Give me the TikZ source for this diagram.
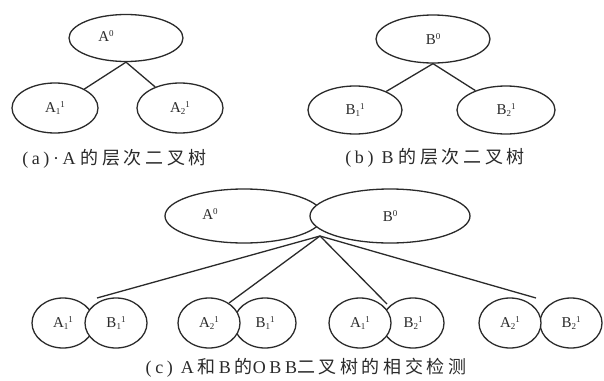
\documentclass[tikz,border=0pt]{standalone}
\usepackage{fontspec}
\setmainfont{Liberation Serif}
\newfontfamily\capfont[LetterSpace=20]{Liberation Serif}
\newfontfamily\cjk[LetterSpace=20]{Noto Sans CJK SC}
\usetikzlibrary{shapes.geometric}
\definecolor{ink}{HTML}{2A2A2A}
\newcommand\sml[1]{{\fontsize{9}{9}\selectfont #1}}
\newcommand\lbl[3]{#1\raisebox{-0.35ex}{\sml{#2}}\raisebox{0.8ex}{\sml{#3}}}
\newcommand\lbz[2]{#1\raisebox{0.8ex}{\sml{#2}}}
\begin{document}
\begin{tikzpicture}[x=1pt,y=-1pt,
  ov/.style={draw=ink,line width=1.3pt,ellipse,fill=white,inner sep=0pt,
             text=ink,font=\fontsize{15}{18}\selectfont},
  pairov/.style={ov,minimum width=62pt,minimum height=50pt},
  lab/.style={font=\fontsize{15}{18}\selectfont,inner sep=0pt,text=ink},
  captext/.style={font=\capfont\fontsize{18}{20}\selectfont,inner sep=0pt,text=ink},
  link/.style={draw=ink,line width=1.3pt}]
\useasboundingbox (0,0) rectangle (604,380);
\fill[white] (0,0) rectangle (604,380);

% (a) hierarchy of A
\node[ov,minimum width=114pt,minimum height=47pt] (a0) at (126,38) {};
\node[lab] (a0t) at (106,36) {\lbz{A}{0}};
\node[ov,minimum width=86pt,minimum height=50pt] (a1) at (55,108) {\lbl{A}{1}{1}};
\node[ov,minimum width=86pt,minimum height=50pt] (a2) at (180,108) {\lbl{A}{2}{1}};
\draw[link] (a0.south) -- (a1);
\draw[link] (a0.south) -- (a2);
\node[captext] (capa) at (114.5,159) {(a)·A\hspace{5pt}{\cjk 的层次二叉树}};

% (b) hierarchy of B
\node[ov,minimum width=114pt,minimum height=48pt] (b0) at (433,39) {\lbz{B}{0}};
\node[ov,minimum width=94pt,minimum height=48pt] (b1) at (355,110) {\lbl{B}{1}{1}};
\node[ov,minimum width=98pt,minimum height=48pt] (b2) at (506,110) {\lbl{B}{2}{1}};
\draw[link] (b0.south) -- (b1);
\draw[link] (b0.south) -- (b2);
\node[captext] (capb) at (435,158) {(b)\hspace{8pt}B\hspace{5pt}{\cjk 的层次二叉树}};

% (c) OBB tree intersection test
\node[ov,minimum width=158pt,minimum height=54pt] (ta) at (244,216) {};
\node[lab] (tat) at (210,214) {\lbz{A}{0}};
\node[ov,minimum width=160pt,minimum height=54pt] (tb) at (390,216) {\lbz{B}{0}};

% pair 1 (B over A)
\node[pairov] (p1a) at (63,323) {\lbl{A}{1}{1}};
\node[pairov] (p1b) at (116,323) {\lbl{B}{1}{1}};
% pair 2 (A over B)
\node[pairov] (p2b) at (265,323) {\lbl{B}{1}{1}};
\node[pairov] (p2a) at (209,323) {\lbl{A}{2}{1}};
% pair 3
\node[pairov] (p3b) at (413,323) {\lbl{B}{2}{1}};
\node[pairov] (p3a) at (360,323) {\lbl{A}{1}{1}};
% pair 4
\node[pairov] (p4b) at (571,323) {\lbl{B}{2}{1}};
\node[pairov] (p4a) at (510,323) {\lbl{A}{2}{1}};

\coordinate (c) at (320,236);
\coordinate (q1) at (97,298);
\coordinate (q2) at (229,303);
\coordinate (q3) at (387,304);
\coordinate (q4) at (536,298);
\draw[link] (c) -- (q1);
\draw[link] (c) -- (q2);
\draw[link] (c) -- (q3);
\draw[link] (c) -- (q4);

\node[captext] (capc) at (306,368) {(c)\hspace{8pt}A\hspace{4pt}{\cjk 和}\hspace{3pt}B\hspace{4pt}{\cjk 的}OBB{\cjk 二叉树的相交检测}};
\end{tikzpicture}
\end{document}
